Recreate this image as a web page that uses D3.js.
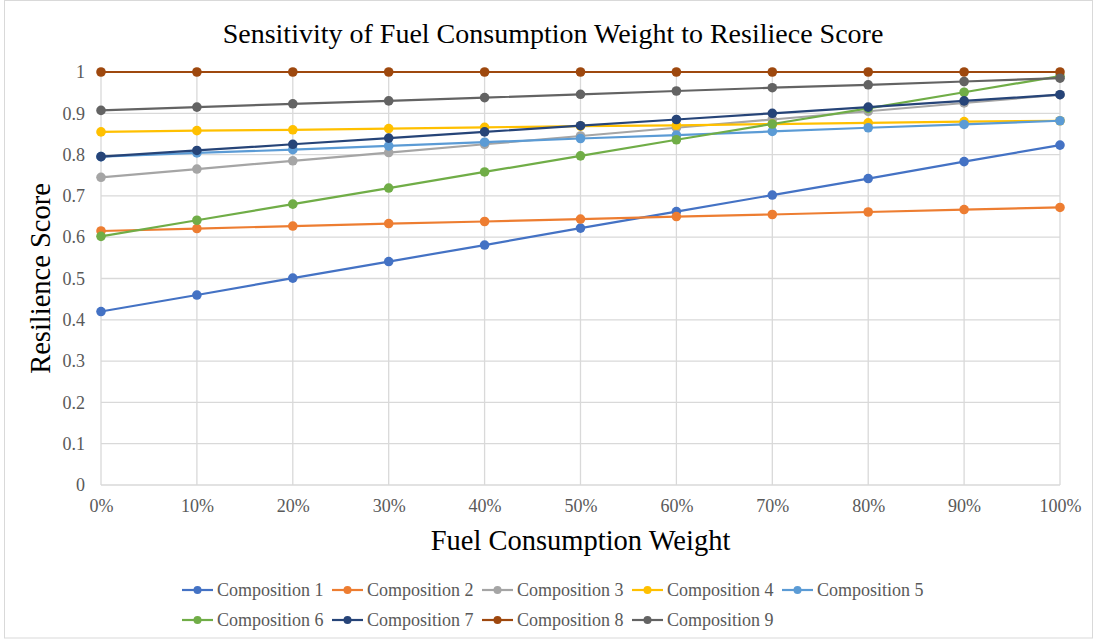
<!DOCTYPE html>
<html>
<head>
<meta charset="utf-8">
<script src="https://cdn.jsdelivr.net/npm/d3@7"></script>
<style>
  body { margin: 0; background: #fff; }
  text { font-family: "Liberation Serif", "Times New Roman", serif; }
</style>
</head>
<body>
<div class="container"></div>
<script>
// x categories (weight)
var weights = [0, 0.1, 0.2, 0.3, 0.4, 0.5, 0.6, 0.7, 0.8, 0.9, 1.0];
var seriesNames = ["Composition 1", "Composition 2", "Composition 3", "Composition 4", "Composition 5",
                   "Composition 6", "Composition 7", "Composition 8", "Composition 9"];
var seriesColors = ["#4472C4", "#ED7D31", "#A5A5A5", "#FFC000", "#5B9BD5",
                    "#70AD47", "#264478", "#9E480E", "#636363"];

// values
var comp1 = [0.420, 0.460, 0.501, 0.541, 0.581, 0.622, 0.662, 0.702, 0.742, 0.783, 0.823];
var comp2 = [0.615, 0.621, 0.627, 0.633, 0.638, 0.644, 0.650, 0.655, 0.661, 0.667, 0.672];
var comp3 = [0.745, 0.765, 0.785, 0.805, 0.825, 0.845, 0.865, 0.885, 0.905, 0.925, 0.945];
var comp4 = [0.855, 0.858, 0.860, 0.863, 0.866, 0.869, 0.871, 0.874, 0.877, 0.880, 0.882];
var comp5 = [0.795, 0.804, 0.812, 0.821, 0.830, 0.839, 0.847, 0.856, 0.865, 0.873, 0.882];
var comp6 = [0.602, 0.641, 0.680, 0.719, 0.758, 0.797, 0.836, 0.874, 0.912, 0.951, 0.990];
var comp7 = [0.795, 0.810, 0.825, 0.840, 0.855, 0.870, 0.885, 0.900, 0.915, 0.930, 0.945];
var comp8 = [1, 1, 1, 1, 1, 1, 1, 1, 1, 1, 1];
var comp9 = [0.907, 0.915, 0.923, 0.930, 0.938, 0.946, 0.954, 0.962, 0.969, 0.977, 0.985];

var yTicks = [0, 0.1, 0.2, 0.3, 0.4, 0.5, 0.6, 0.7, 0.8, 0.9, 1];

var allSeries = [comp1, comp2, comp3, comp4, comp5, comp6, comp7, comp8, comp9];

var W = 1094, H = 639;
var margin = {top: 72, right: 34, bottom: 154, left: 101},
    width = W - margin.left - margin.right,
    height = H - margin.top - margin.bottom;

var svg = d3.select(".container").append("svg")
    .attr("width", W)
    .attr("height", H);

// chart border
svg.append("rect")
  .attr("x", 4.5).attr("y", 0.5)
  .attr("width", W - 6).attr("height", H - 1.5)
  .attr("fill", "#fff").attr("stroke", "#d9d9d9");

var g = svg.append("g")
    .attr("transform", "translate(" + margin.left + "," + margin.top + ")");

var x = d3.scaleLinear().domain([0, 1]).range([0, width]);
var y = d3.scaleLinear().domain([0, 1]).range([height, 0]);

// gridlines
g.append("g")
  .selectAll("line.hgrid")
  .data(yTicks)
  .enter().append("line")
  .attr("x1", 0).attr("x2", width)
  .attr("y1", function(d) { return y(d); })
  .attr("y2", function(d) { return y(d); })
  .attr("stroke", "#d9d9d9").attr("stroke-width", 1.3);

g.append("g")
  .selectAll("line.vgrid")
  .data(weights)
  .enter().append("line")
  .attr("y1", 0).attr("y2", height)
  .attr("x1", function(d) { return x(d); })
  .attr("x2", function(d) { return x(d); })
  .attr("stroke", "#d9d9d9").attr("stroke-width", 1.3);

// y axis labels
var yAxis = g.append("g")
  .call(d3.axisLeft(y).tickValues(yTicks).tickSize(0).tickPadding(16)
    .tickFormat(function(d) { return d3.format("")(Math.round(d * 10) / 10); }));
yAxis.select(".domain").remove();
yAxis.selectAll("text")
  .style("font-family", "Liberation Serif")
  .style("font-size", "18px")
  .attr("fill", "#595959");

// x axis labels
var xAxis = g.append("g")
  .attr("transform", "translate(0," + height + ")")
  .call(d3.axisBottom(x).tickValues(weights).tickSize(0).tickPadding(14)
    .tickFormat(d3.format(".0%")));
xAxis.select(".domain").remove();
xAxis.selectAll("text")
  .style("font-family", "Liberation Serif")
  .style("font-size", "18px")
  .attr("fill", "#595959");

// lines and markers
var line = d3.line()
  .x(function(d, i) { return x(weights[i]); })
  .y(function(d) { return y(d); });

allSeries.forEach(function(vals, k) {
  g.append("path")
    .datum(vals)
    .attr("d", line)
    .attr("fill", "none")
    .attr("stroke", seriesColors[k])
    .attr("stroke-width", 2.2);
  g.selectAll(".pt" + k)
    .data(vals)
    .enter().append("circle")
    .attr("cx", function(d, i) { return x(weights[i]); })
    .attr("cy", function(d) { return y(d); })
    .attr("r", 4.8)
    .attr("fill", seriesColors[k]);
});

// title
svg.append("text")
  .attr("x", 553).attr("y", 43)
  .attr("text-anchor", "middle")
  .style("font-size", "28px")
  .attr("fill", "#000")
  .text("Sensitivity of Fuel Consumption Weight to Resiliece Score");

// axis titles
svg.append("text")
  .attr("transform", "translate(50," + (margin.top + height / 2) + ") rotate(-90)")
  .attr("text-anchor", "middle")
  .style("font-size", "28.5px")
  .attr("fill", "#000")
  .text("Resilience Score");

svg.append("text")
  .attr("x", margin.left + width / 2).attr("y", 550)
  .attr("text-anchor", "middle")
  .style("font-size", "28.5px")
  .attr("fill", "#000")
  .text("Fuel Consumption Weight");

// legend
var legend = svg.append("g");
seriesNames.forEach(function(name, k) {
  var row = k < 5 ? 0 : 1;
  var col = k < 5 ? k : k - 5;
  var lx = 182 + col * 150;
  var ly = 590 + row * 30;
  var item = legend.append("g").attr("transform", "translate(" + lx + "," + ly + ")");
  item.append("line")
    .attr("x1", 0).attr("x2", 31).attr("y1", 0).attr("y2", 0)
    .attr("stroke", seriesColors[k]).attr("stroke-width", 2.2);
  item.append("circle")
    .attr("cx", 15.5).attr("cy", 0).attr("r", 4)
    .attr("fill", seriesColors[k]);
  item.append("text")
    .attr("x", 35).attr("y", 6)
    .style("font-size", "18px")
    .attr("fill", "#595959")
    .text(name);
});
</script>
</body>
</html>
